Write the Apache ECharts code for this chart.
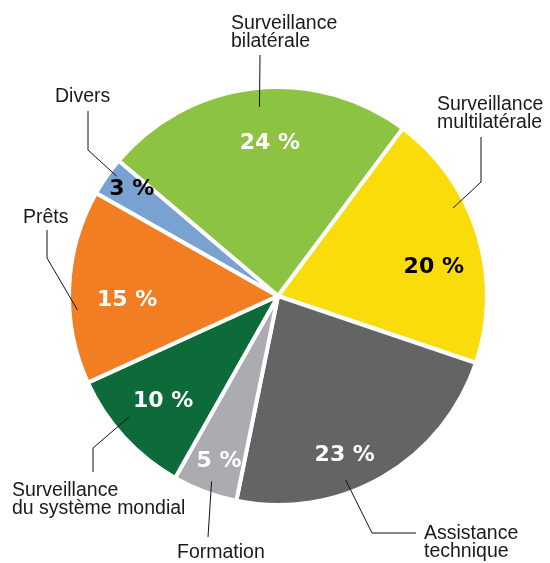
<!DOCTYPE html>
<html>
<head>
<meta charset="utf-8">
<script src="https://cdn.jsdelivr.net/npm/echarts@6/dist/echarts.min.js"></script>
<style>
  html, body { margin: 0; padding: 0; background: #ffffff; }
  #chart { width: 550px; height: 563px; }
</style>
</head>
<body>
<div id="chart"></div>
<script>
// Répartition des activités, en pourcentage du total
const categories = [
  'Surveillance bilatérale',
  'Surveillance multilatérale',
  'Assistance technique',
  'Formation',
  'Surveillance du système mondial',
  'Prêts',
  'Divers'
];
const shares = [24, 20, 23, 5, 10, 15, 3];
// Category names as they are set beside the pie
const nameLabels = [
  'Surveillance\nbilatérale',
  'Surveillance\nmultilatérale',
  'Assistance\ntechnique',
  'Formation',
  'Surveillance\ndu système mondial',
  'Prêts',
  'Divers'
];

// ---- styling / layout ----
const palette   = ['#8DC342', '#FADC0B', '#636466', '#ABACAF', '#0C6B39', '#F17E22', '#7AA2D0'];
const pctColors = ['#ffffff', '#000000', '#ffffff', '#ffffff', '#ffffff', '#ffffff', '#000000'];

const CENTER = [278, 296];
const RADIUS = 209;
const START_ANGLE = 139.7;            // ECharts convention (0 = 3 o'clock, counter-clockwise)
const NAME_FONT = '"Liberation Sans", Arial, Helvetica, sans-serif';
const PCT_FONT = '"DejaVu Sans", "Liberation Sans", Arial, sans-serif';

// nudges of the percentage labels from the middle of their ring
const pctNudge = [[10, 6], [3, 19], [-13, 21], [-3, 15], [3, -3], [9, 11], [-15, -15]];

// leader lines: start inside the slice (angle turned from the slice middle, radius),
// optional elbow, end under/over the name, and the name's top-left corner
const leaders = [
  { turn:  0.9, r: 190, bend: null,       end: [260, 55],  at: [231, 15]  },
  { turn: -9.4, r: 196, bend: [481, 182], end: [481, 137], at: [437, 96]  },
  { turn:  9.7, r: 196, bend: [372, 533], end: [416, 533], at: [424, 525] },
  { turn: -0.8, r: 197, bend: null,       end: [208, 537], at: [177, 544] },
  { turn:  3.4, r: 192, bend: [93, 448],  end: [93, 472],  at: [12, 482]  },
  { turn: -6.5, r: 201, bend: [47, 258],  end: [47, 230],  at: [23, 209]  },
  { turn:  1.7, r: 201, bend: [88, 150],  end: [88, 111],  at: [55, 88]   }
];

// middle of each slice as a clockwise bearing from 12 o'clock
const total = shares.reduce((a, b) => a + b, 0);
const midBearing = [];
(function () {
  let acc = 90 - START_ANGLE;
  shares.forEach(v => {
    const span = v / total * 360;
    midBearing.push(acc + span / 2);
    acc += span;
  });
})();

function polar(bearingDeg, r) {
  const a = bearingDeg * Math.PI / 180;
  return [CENTER[0] + r * Math.sin(a), CENTER[1] - r * Math.cos(a)];
}

const common = {
  type: 'pie',
  center: CENTER,
  startAngle: START_ANGLE,
  clockwise: true,
  avoidLabelOverlap: false,
  silent: true
};

const chart = echarts.init(document.getElementById('chart'), null, { renderer: 'canvas' });

chart.setOption({
  animation: false,
  backgroundColor: '#ffffff',
  series: [
    Object.assign({}, common, {
      // the coloured slices
      radius: RADIUS,
      z: 2,
      itemStyle: { borderColor: '#ffffff', borderWidth: 4 },
      label: { show: false },
      labelLine: { show: false },
      data: categories.map((c, i) => ({
        name: c,
        value: shares[i],
        itemStyle: { color: palette[i] }
      }))
    }),
    Object.assign({}, common, {
      // percentage figures inside the slices
      radius: [105, RADIUS],
      z: 5,
      itemStyle: { color: 'rgba(0,0,0,0)', borderWidth: 0 },
      label: {
        show: true,
        position: 'inside',
        formatter: p => p.value + ' %',
        fontFamily: PCT_FONT,
        fontWeight: 'bold',
        fontSize: 22
      },
      labelLine: { show: false },
      labelLayout: function (p) {
        const n = pctNudge[p.dataIndex];
        return { dx: n[0], dy: n[1] };
      },
      data: categories.map((c, i) => ({
        name: c,
        value: shares[i],
        label: { color: pctColors[i] }
      }))
    }),
    Object.assign({}, common, {
      // category names with their leader lines, drawn over the slices
      radius: RADIUS,
      z: 6,
      itemStyle: { color: 'rgba(0,0,0,0)', borderWidth: 0 },
      label: {
        show: true,
        position: 'outside',
        formatter: p => nameLabels[p.dataIndex],
        fontFamily: NAME_FONT,
        fontSize: 19.5,
        lineHeight: 18,
        color: '#1a1a1a'
      },
      labelLine: {
        show: true,
        smooth: false,
        lineStyle: { color: '#111111', width: 1 }
      },
      labelLayout: function (p) {
        const L = leaders[p.dataIndex];
        const start = polar(midBearing[p.dataIndex] + L.turn, L.r);
        const pts = L.bend ? [start, L.bend, L.end] : [start, L.end];
        return {
          x: L.at[0],
          y: L.at[1],
          align: 'left',
          verticalAlign: 'top',
          labelLinePoints: pts
        };
      },
      data: categories.map((c, i) => ({ name: c, value: shares[i] }))
    })
  ]
});
</script>
</body>
</html>
